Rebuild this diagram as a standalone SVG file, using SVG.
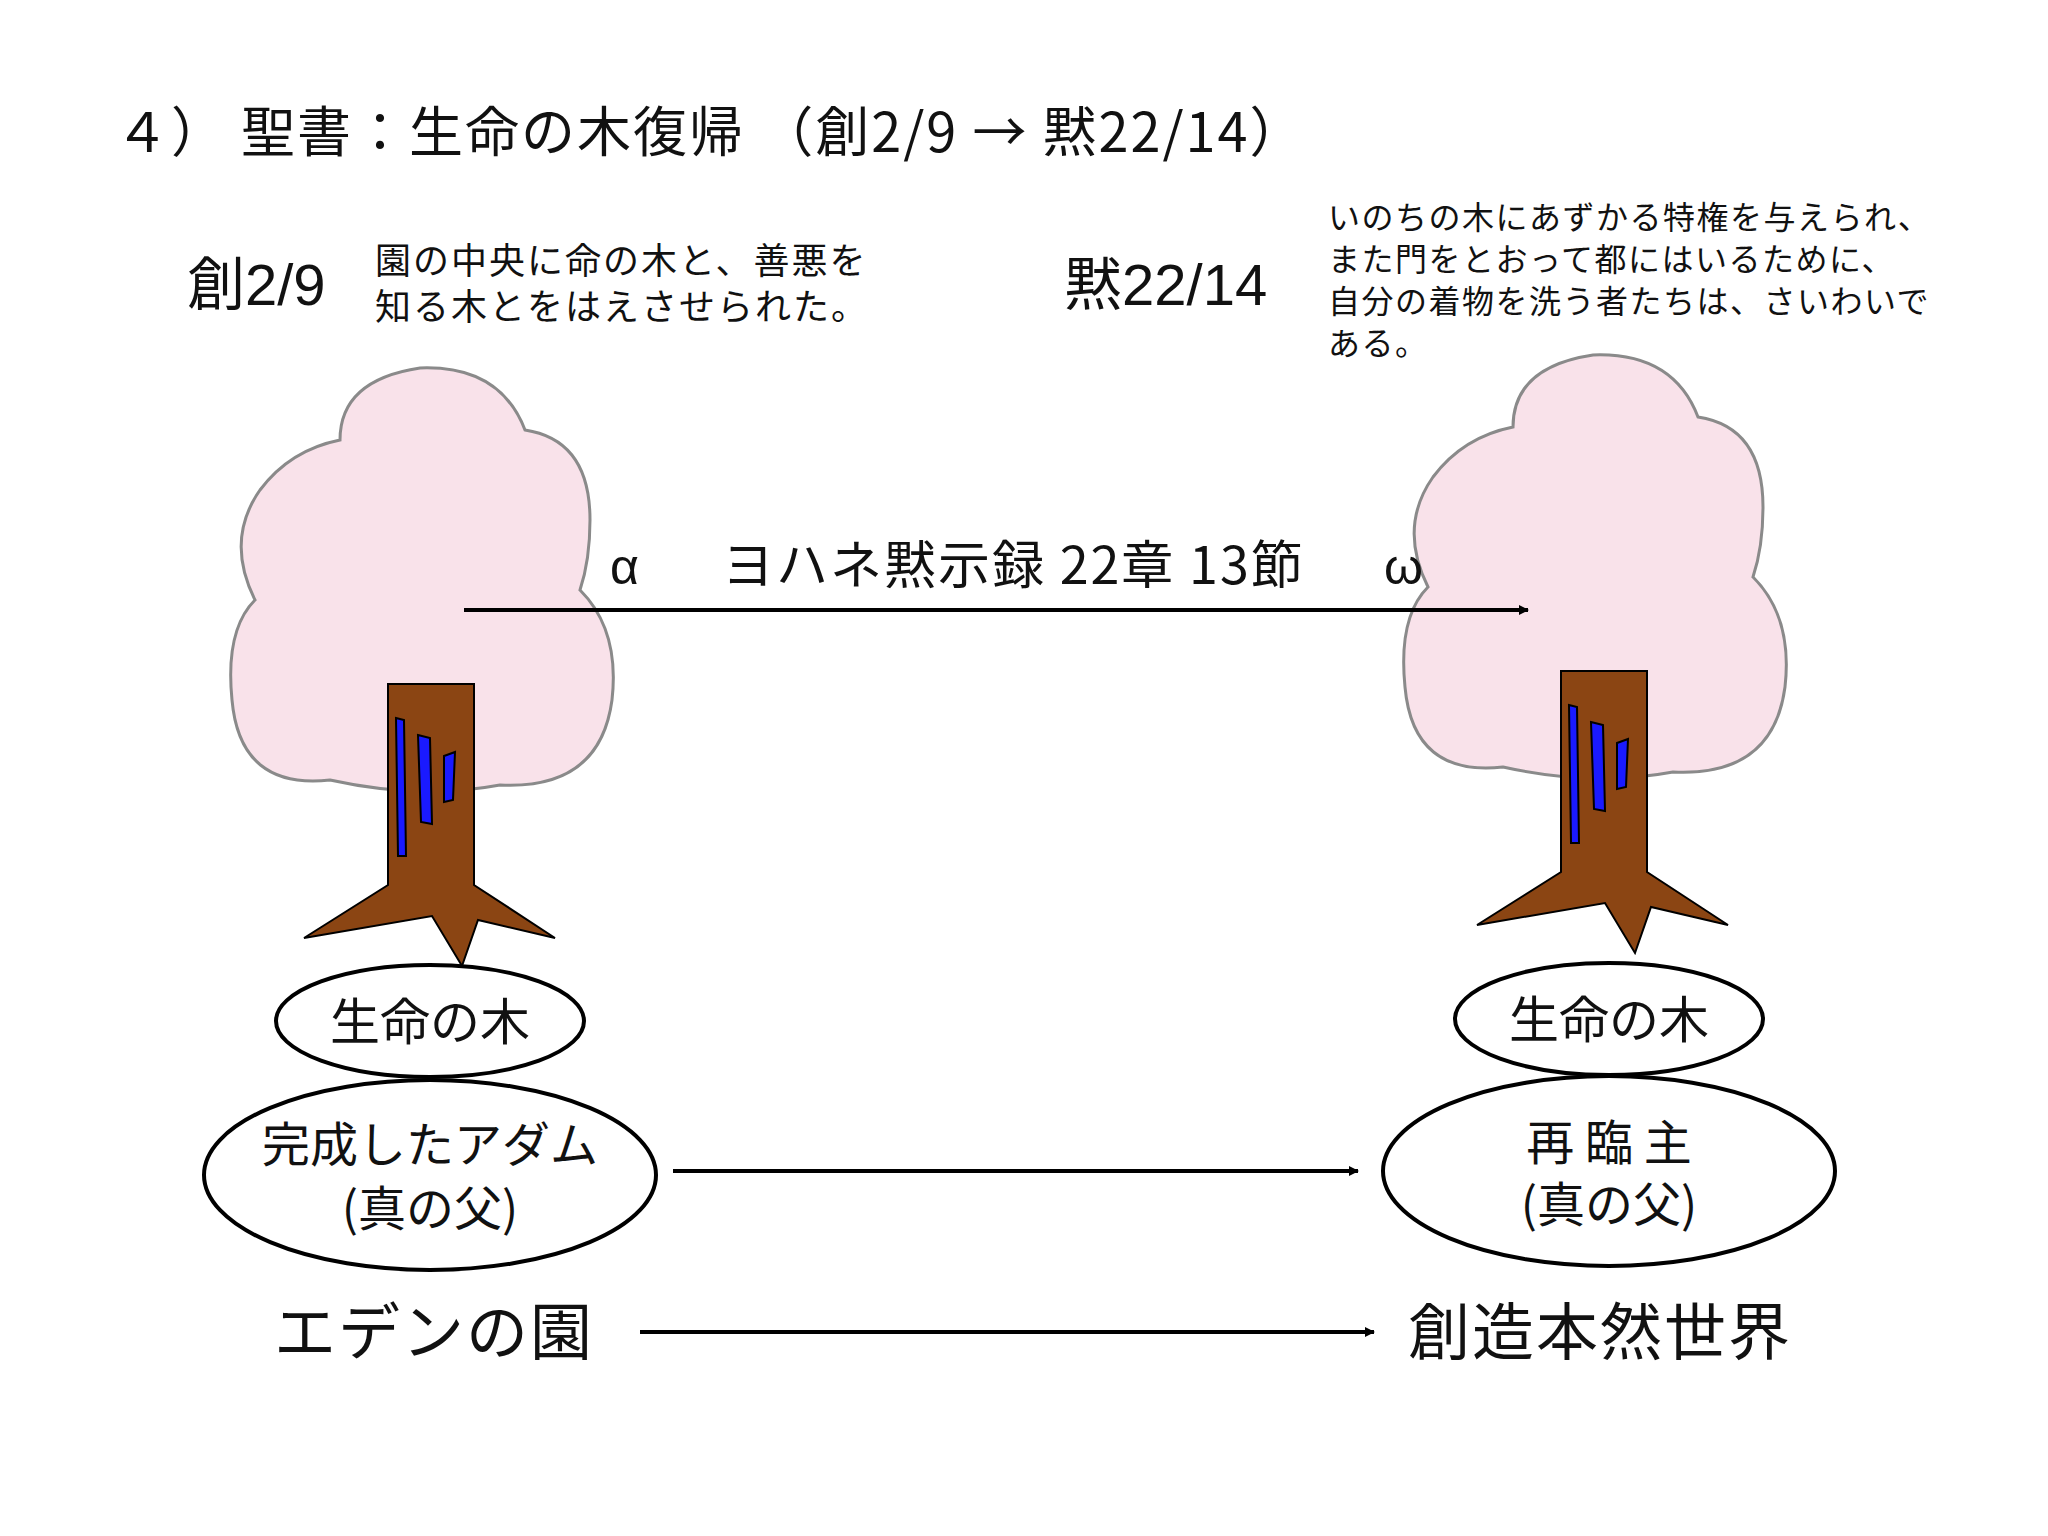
<svg xmlns="http://www.w3.org/2000/svg" xmlns:xlink="http://www.w3.org/1999/xlink" width="2048" height="1536" viewBox="0 0 2048 1536">
<style>
.j{font-family:"Noto Sans CJK JP","Liberation Sans",sans-serif;fill:#111}
.l{font-family:"Liberation Sans","Noto Sans CJK JP",sans-serif;fill:#111}
.e{fill:#fff;stroke:#000;stroke-width:4}
.c{stroke:#000;stroke-width:4;fill:none;marker-end:url(#ah)}
</style>
<defs>
<marker id="ah" markerWidth="10" markerHeight="10" refX="9" refY="5" orient="auto" markerUnits="userSpaceOnUse" viewBox="0 0 10 10"><path d="M0,0 L10,5 L0,10 Z" fill="#000"/></marker>
<g id="tree">
<path d="M330 780 Q240 790 232 700 Q225 630 255 600 Q225 540 260 490 Q290 450 340 440 Q340 380 420 368 Q500 365 525 430 Q590 440 590 520 Q590 560 580 590 Q620 630 612 700 Q600 790 500 785 Q420 800 330 780 Z" fill="#f9e2ea" stroke="#8a8a8a" stroke-width="3"/>
<path d="M388 684 L474 684 L474 885 L555 938 L478 920 L462 966 L432 916 L304 938 L388 885 Z" fill="#8b4513" stroke="#000" stroke-width="2"/>
<path d="M396 718 L404 720 L406 856 L398 856 Z" fill="#1a1aff" stroke="#000" stroke-width="2"/>
<path d="M418 735 L430 738 L432 824 L421 822 Z" fill="#1a1aff" stroke="#000" stroke-width="2"/>
<path d="M444 756 L455 752 L453 800 L444 802 Z" fill="#1a1aff" stroke="#000" stroke-width="2"/>
</g>
</defs>
<g id="title"><text class="j" x="115" y="152" font-size="54" letter-spacing="2">４） 聖書：生命の木復帰 （創2/9 → 黙22/14）</text></g>
<g id="gen"><text class="l" x="187" y="305" font-size="58">創2/9</text>
<text class="j" font-size="36" letter-spacing="2"><tspan x="375" y="274">園の中央に命の木と、善悪を</tspan><tspan x="375" y="320">知る木とをはえさせられた。</tspan></text></g>
<g id="rev"><text class="l" x="1064" y="305" font-size="58">黙22/14</text>
<text class="j" font-size="32" letter-spacing="1.5"><tspan x="1328" y="229">いのちの木にあずかる特権を与えられ、</tspan><tspan x="1328" y="271">また門をとおって都にはいるために、</tspan><tspan x="1328" y="313">自分の着物を洗う者たちは、さいわいで</tspan><tspan x="1328" y="355">ある。</tspan></text></g>
<g id="tree1"><use xlink:href="#tree"/></g>
<g id="tree2"><use xlink:href="#tree" transform="translate(1173,-13)"/></g>
<g id="connectors">
<line class="c" x1="464" y1="610" x2="1528" y2="610"/>
<line class="c" x1="673" y1="1171" x2="1358" y2="1171"/>
<line class="c" x1="640" y1="1332" x2="1374" y2="1332"/>
</g>
<g id="arrowlabel"><text class="l" x="610" y="584" font-size="50">α</text>
<text class="j" x="722" y="584" font-size="52" letter-spacing="2">ヨハネ黙示録 22章 13節</text>
<text class="l" x="1384" y="584" font-size="50">ω</text></g>
<g id="n1"><ellipse class="e" cx="430" cy="1021" rx="154" ry="56"/><text class="j" x="430" y="1040" font-size="50" text-anchor="middle">生命の木</text></g>
<g id="n2"><ellipse class="e" cx="430" cy="1175" rx="226" ry="95"/><text class="j" x="430" y="1162" font-size="48" text-anchor="middle">完成したアダム</text><text class="j" x="430" y="1226" font-size="48" text-anchor="middle">(真の父)</text></g>
<g id="n3"><ellipse class="e" cx="1609" cy="1019" rx="154" ry="56"/><text class="j" x="1609" y="1038" font-size="50" text-anchor="middle">生命の木</text></g>
<g id="n4"><ellipse class="e" cx="1609" cy="1171" rx="226" ry="95"/><text class="j" x="1609" y="1160" font-size="48" text-anchor="middle">再 臨 主</text><text class="j" x="1609" y="1222" font-size="48" text-anchor="middle">(真の父)</text></g>
<g id="n5"><text class="j" x="274" y="1355" font-size="62" letter-spacing="2">エデンの園</text></g>
<g id="n6"><text class="j" x="1408" y="1355" font-size="62" letter-spacing="2">創造本然世界</text></g>
</svg>
